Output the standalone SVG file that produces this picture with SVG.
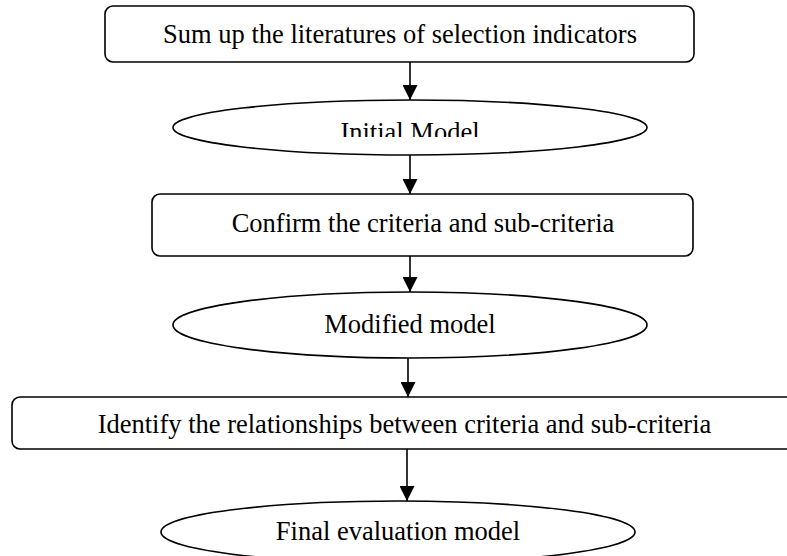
<svg xmlns="http://www.w3.org/2000/svg" width="787" height="556" viewBox="0 0 787 556">
  <style>
    .box { fill: #ffffff; stroke: #000000; stroke-width: 1.6; }
    .lbl { font-family: "Liberation Serif", "Times New Roman", serif; font-size: 26.5px; fill: #000000; text-anchor: middle; }
    .conn { stroke: #000000; stroke-width: 1.6; fill: none; marker-end: url(#arrow); }
  </style>
  <defs>
    <marker id="arrow" markerUnits="userSpaceOnUse" markerWidth="15" markerHeight="15" viewBox="0 0 15 15" refX="15" refY="7.5" orient="auto">
      <path d="M0,0 L15,7.5 L0,15 Z" fill="#000000"/>
    </marker>
    <clipPath id="clipInitial">
      <rect x="0" y="0" width="787" height="137"/>
    </clipPath>
  </defs>
  <rect width="787" height="556" fill="#ffffff"/>

  <g id="connectors">
    <line class="conn" x1="410" y1="62" x2="410" y2="100"/>
    <line class="conn" x1="410" y1="155" x2="410" y2="194"/>
    <line class="conn" x1="410" y1="256" x2="410" y2="292"/>
    <line class="conn" x1="408" y1="358" x2="408" y2="397"/>
    <line class="conn" x1="407" y1="449" x2="407" y2="501"/>
  </g>

  <g id="node-sum-up">
    <rect class="box" x="105" y="6" width="589" height="56" rx="8" ry="8"/>
    <text class="lbl" x="400" y="43">Sum up the literatures of selection indicators</text>
  </g>

  <g id="node-initial-model">
    <ellipse class="box" cx="410" cy="127.5" rx="237" ry="27.5"/>
    <text class="lbl" x="410" y="141" clip-path="url(#clipInitial)">Initial Model</text>
  </g>

  <g id="node-confirm">
    <rect class="box" x="152" y="194" width="541" height="62" rx="8" ry="8"/>
    <text class="lbl" x="423" y="232">Confirm the criteria and sub-criteria</text>
  </g>

  <g id="node-modified-model">
    <ellipse class="box" cx="410" cy="325" rx="237" ry="33"/>
    <text class="lbl" x="410" y="333">Modified model</text>
  </g>

  <g id="node-identify">
    <rect class="box" x="12" y="397" width="800" height="52" rx="8" ry="8"/>
    <text class="lbl" x="404.5" y="433">Identify the relationships between criteria and sub-criteria</text>
  </g>

  <g id="node-final-model">
    <ellipse class="box" cx="398" cy="532" rx="237" ry="31"/>
    <text class="lbl" x="398" y="540">Final evaluation model</text>
  </g>
</svg>
